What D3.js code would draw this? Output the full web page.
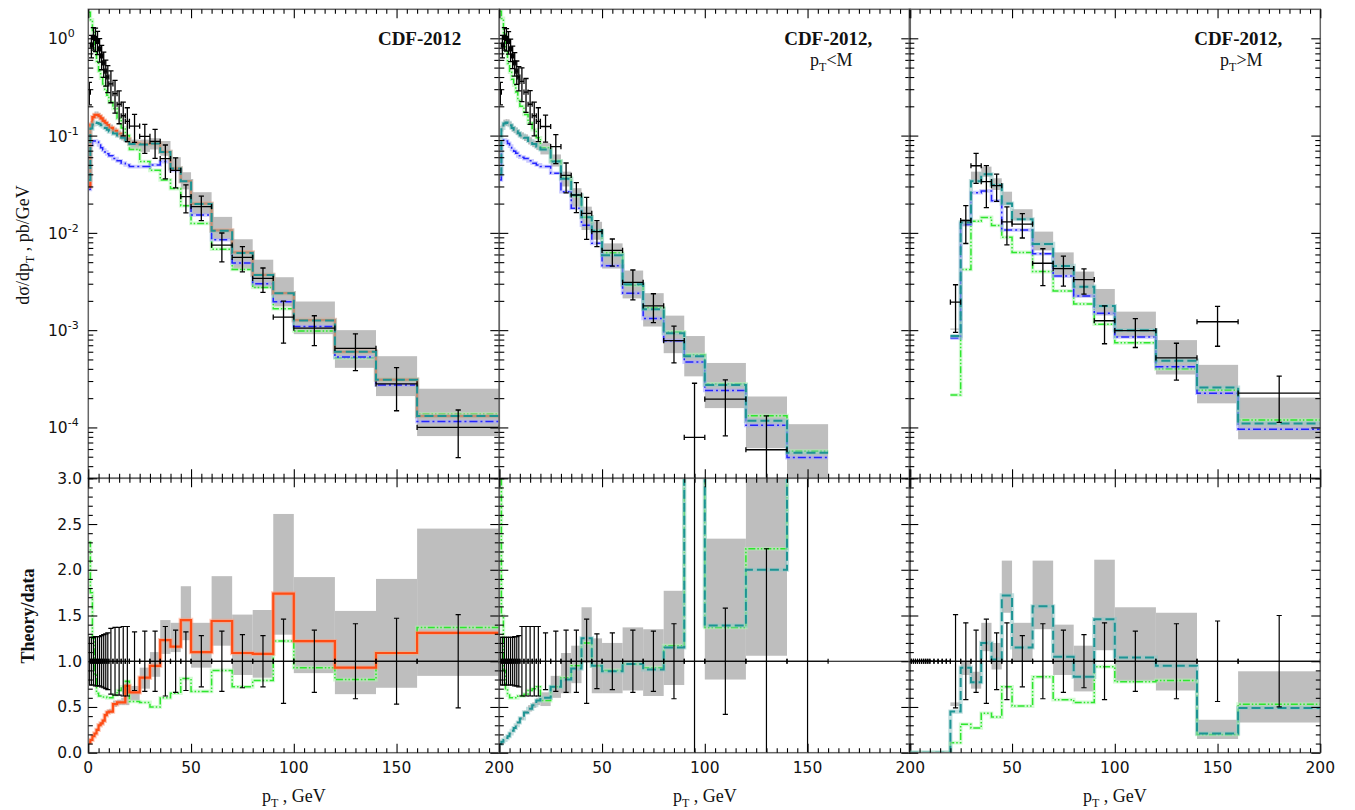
<!DOCTYPE html>
<html lang="en">
<head>
<meta charset="UTF-8">
<title>CDF-2012 pT spectra</title>
<script src="https://d3js.org/d3.v7.min.js"></script>
<style>
  body { margin: 0; background: #fff; }
  .tick-label { font-family: "DejaVu Sans", sans-serif; font-size: 15.5px; fill: #111; }
  .serif { font-family: "Liberation Serif", "Times New Roman", serif; fill: #111; }
</style>
</head>
<body>
<svg id="chart" width="1355" height="810"></svg>
<script>
// ---- bins (GeV) ----
const binEdges = [0,1,2,3,4,5,6,7,8,9,10,12,14,16,18,20,25,30,35,40,45,50,60,70,80,90,100,120,140,160,200];
const xTickValues = [0, 50, 100, 150, 200];
const ratioTickValues = [0, 0.5, 1, 1.5, 2, 2.5, 3];
const ratioTickLabels = ['0.0', '0.5', '1.0', '1.5', '2.0', '2.5', '3.0'];
const logTickExponents = [0, -1, -2, -3, -4];

// ---- panel 1: all pT ----
const dataAll  = [0.28,0.85,1.02,1.0,0.93,0.78,0.66,0.56,0.46,0.40, 0.34,0.27,0.21,0.16,0.14, 0.125,0.098,0.087,0.058,0.044,0.0236, 0.0186,0.0075,0.0056,0.0034,0.00136, 0.00105,0.00065,0.00028,0.0001];
const errAll   = [0.26,0.26,0.26,0.27,0.27,0.27,0.28,0.29,0.30,0.31, 0.36,0.37,0.37,0.38,0.38, 0.32,0.33,0.33,0.38,0.34,0.32, 0.28,0.33,0.29,0.28,0.46, 0.34,0.41,0.47,0.51];
const bandLoAll = [0.027,0.12,0.143,0.15,0.15,0.146,0.139,0.131,0.125,0.118, 0.111,0.104,0.096,0.089,0.084, 0.071,0.068,0.072,0.062,0.045,0.028, 0.0155,0.0086,0.0042,0.0027,0.00175, 0.00091,0.00041,0.00021,0.0000815];
const bandHiAll = [0.034,0.141,0.168,0.177,0.177,0.171,0.162,0.154,0.146,0.138, 0.130,0.121,0.113,0.105,0.100, 0.091,0.091,0.094,0.088,0.060,0.042, 0.0262,0.0146,0.0086,0.0053,0.0035, 0.00197,0.00100,0.00054,0.00025];
const orangeAll = [0.03,0.13,0.155,0.163,0.163,0.158,0.15,0.142,0.135,0.128, 0.12,0.112,0.104,0.097,0.092, 0.083,0.082,0.083,0.068,0.046,0.034, 0.020,0.0106,0.0063,0.0037,0.0024, 0.00127,0.0006,0.00031,0.000131];
const tealAll   = [0.035,0.118,0.13,0.136,0.135,0.132,0.128,0.124,0.12,0.115, 0.11,0.105,0.1,0.095,0.09, 0.082,0.081,0.083,0.068,0.046,0.034, 0.0198,0.0105,0.0062,0.0037,0.0024, 0.00126,0.0006,0.00031,0.000131];
const blueAll   = [0.028,0.08,0.088,0.088,0.086,0.08,0.075,0.071,0.068,0.065, 0.062,0.058,0.055,0.052,0.05, 0.048,0.048,0.050,0.054,0.044,0.034, 0.0153,0.0085,0.0049,0.0030,0.00196, 0.00109,0.00053,0.000273,0.000115];
const greenAll  = [1.85,1.55,1.15,0.75,0.58,0.46,0.39,0.34,0.30,0.26, 0.22,0.19,0.15,0.12,0.10, 0.072,0.054,0.044,0.035,0.0285,0.019, 0.0125,0.0068,0.0042,0.00275,0.00166, 0.00098,0.00052,0.00031,0.000137];
const ratioOrangeAll = [0.11,0.14,0.18,0.21,0.25,0.30,0.32,0.35,0.41,0.44, 0.45,0.53,0.55,0.55,0.73, 0.66,0.82,0.95,1.23,1.16,1.45, 1.10,1.44,1.09,1.08,1.74, 1.22,0.93,1.09,1.31];
const ratioGreenAll  = [2.3,1.75,1.25,0.85,0.65,0.62,0.62,0.61,0.61,0.60, 0.60,0.63,0.68,0.72,0.78, 0.56,0.55,0.50,0.60,0.65,0.81, 0.67,0.90,0.72,0.79,1.22, 0.93,0.80,1.09,1.37];
const ratioBandLoAll = [0.10,0.13,0.17,0.20,0.24,0.28,0.30,0.33,0.39,0.42, 0.43,0.50,0.52,0.52,0.52, 0.57,0.70,0.83,1.08,1.10,1.23, 0.93,1.17,0.85,0.82,1.29, 0.87,0.64,0.71,0.84];
const ratioBandHiAll = [0.12,0.15,0.19,0.22,0.27,0.32,0.34,0.37,0.43,0.47, 0.48,0.57,0.58,0.60,0.79, 0.73,0.93,1.10,1.45,1.42,1.82, 1.42,1.93,1.51,1.56,2.61, 1.92,1.55,1.90,2.45];

// ---- panel 2: pT < M ----
const dataLow  = [0.28,0.85,1.02,1.0,0.93,0.78,0.66,0.56,0.46,0.40, 0.36,0.28,0.21,0.16,0.14, 0.124,0.077,0.039,0.0245,0.0159,0.0103, 0.0066,0.0031,0.00178,0.00078,0.000079, 0.000195,0.000059,0.000008,null];
const errLow   = [0.26,0.26,0.26,0.26,0.26,0.26,0.26,0.27,0.27,0.28, 0.38,0.38,0.38,0.38,0.38, 0.31,0.33,0.34,0.34,0.46,0.30, 0.31,0.34,0.33,0.41,2.6, 0.58,1.23,2.5,null];
const bandLoLow = [0.036,0.11,0.124,0.125,0.125,0.118,0.11,0.106,0.102,0.098, 0.093,0.088,0.081,0.076,0.071, 0.064,0.048,0.030,0.0186,0.0107,0.0085, 0.0043,0.00212,0.00109,0.00058,0.000335, 0.000158,0.0000612,0.000025,null];
const bandHiLow = [0.045,0.13,0.146,0.148,0.147,0.139,0.131,0.125,0.121,0.115, 0.108,0.103,0.096,0.089,0.084, 0.084,0.064,0.0426,0.0288,0.0186,0.013, 0.0078,0.0041,0.0024,0.00141,0.00087, 0.00046,0.000208,0.000108,null];
const tealLow  = [0.04,0.12,0.133,0.136,0.135,0.128,0.12,0.115,0.111,0.106, 0.1,0.095,0.088,0.082,0.077, 0.072,0.054,0.036,0.0245,0.0145,0.0105, 0.0059,0.00296,0.00164,0.00093,0.00054, 0.000273,0.000117,0.000055,null];
const blueLow  = [0.035,0.085,0.09,0.088,0.083,0.078,0.072,0.069,0.066,0.062, 0.06,0.058,0.055,0.052,0.05, 0.048,0.041,0.0265,0.0179,0.012,0.0078, 0.0046,0.0024,0.00132,0.00078,0.00047, 0.00024,0.000105,0.000049,null];
const greenLow = [1.9,1.6,1.1,0.73,0.55,0.45,0.38,0.33,0.28,0.23, 0.2,0.165,0.135,0.115,0.095, 0.075,0.055,0.037,0.024,0.0145,0.0105, 0.0062,0.0029,0.0017,0.00096,0.00056, 0.00028,0.000132,0.000057,null];
const ratioTealLow  = [0.095,0.12,0.14,0.16,0.18,0.21,0.24,0.27,0.30,0.33, 0.375,0.44,0.48,0.52,0.57, 0.60,0.72,0.80,0.92,1.25,0.95, 0.89,0.97,0.91,1.15,6, 1.39,2.0,6,null];
const ratioGreenLow = [3.5,1.5,0.9,0.7,0.63,0.6,0.6,0.6,0.6,0.62, 0.62,0.64,0.68,0.7,0.72, 0.57,0.72,0.82,0.95,1.2,0.95, 0.9,0.97,0.93,1.17,6, 1.37,2.23,6,null];
const ratioBandLoLow = [0.09,0.115,0.135,0.155,0.175,0.2,0.23,0.26,0.29,0.32, 0.36,0.42,0.45,0.49,0.52, 0.51,0.60,0.65,0.76,0.98,0.65, 0.65,0.68,0.62,0.74,4, 0.80,1.06,4,null];
const ratioBandHiLow = [0.10,0.125,0.145,0.165,0.19,0.22,0.25,0.28,0.31,0.34, 0.39,0.46,0.52,0.55,0.60, 0.66,0.84,1.09,1.17,1.59,1.25, 1.20,1.37,1.35,1.77,8, 2.34,8,8,null];

// ---- panel 3: pT > M ----
const dataHigh = [null,null,null,null,null,null,null,null,null,null, null,null,null,null,null, 0.00194,0.0134,0.049,0.0336,0.0306,0.013, 0.0123,0.00487,0.0043,0.0033,0.00125, 0.00099,0.00052,0.00122,0.000225];
const errHigh  = [0,0,0,0,0,0,0,0,0,0, 0,0,0,0,0, 0.51,0.42,0.34,0.46,0.31,0.42, 0.28,0.41,0.34,0.29,0.42, 0.33,0.41,0.44,0.50];
const bandLoHigh = [null,null,null,null,null,null,null,null,null,null, null,null,null,null,null, 0.00101,0.0117,0.0336,0.0378,0.0276,0.0194, 0.0136,0.0066,0.0037,0.00218,0.00142, 0.00085,0.00035,0.000177,0.0000755];
const bandHiHigh = [null,null,null,null,null,null,null,null,null,null, null,null,null,null,null, 0.00104,0.0138,0.0426,0.048,0.0364,0.0265, 0.0175,0.0103,0.0063,0.004,0.00265, 0.00155,0.00079,0.00044,0.000203];
const tealHigh  = [null,null,null,null,null,null,null,null,null,null, null,null,null,null,null, 0.00087,0.0128,0.034,0.040,0.031,0.020, 0.0138,0.0077,0.00457,0.0028,0.00177, 0.001,0.000486,0.000257,0.00011];
const blueHigh  = [null,null,null,null,null,null,null,null,null,null, null,null,null,null,null, 0.00083,0.0122,0.0259,0.027,0.0214,0.0107, 0.0107,0.0061,0.0036,0.00225,0.00149, 0.00085,0.00042,0.000225,0.000096];
const greenHigh = [null,null,null,null,null,null,null,null,null,null, null,null,null,null,null, 0.000216,0.0042,0.0132,0.0144,0.0119,0.0090, 0.0063,0.0040,0.00253,0.00186,0.00115, 0.00074,0.0004,0.000243,0.000119];
const ratioTealHigh  = [0,0,0,0,0,0,0,0,0,0, 0,0,0,0,0, 0.45,0.93,0.77,1.20,1.02,1.72, 1.15,1.60,1.05,0.83,1.46, 1.04,0.95,0.21,0.49];
const ratioGreenHigh = [0,0,0,0,0,0,0,0,0,0, 0,0,0,0,0, 0.11,0.31,0.27,0.43,0.39,0.72, 0.51,0.83,0.58,0.55,0.94, 0.777,0.79,0.20,0.53];
const ratioBandLoHigh = [null,null,null,null,null,null,null,null,null,null, null,null,null,null,null, 0.51,0.85,0.70,1.11,0.91,1.53, 1.00,1.35,0.85,0.67,1.12, 0.78,0.68,0.15,0.33];
const ratioBandHiHigh = [null,null,null,null,null,null,null,null,null,null, null,null,null,null,null, 0.55,1.00,0.885,1.42,1.20,2.10, 1.42,2.10,1.40,1.17,2.11, 1.59,1.53,0.36,0.89];

// ---- styles ----
const styles = {
  orange: { color: '#ff4c14', halo: '#ff9c7c', width: 2.2, dash: null },
  teal:   { color: '#1d9494', halo: '#8fc4c4', width: 2,   dash: '9,4' },
  blue:   { color: '#2424ff', halo: '#a3a3ff', width: 1.5, dash: '8,3,2,3' },
  green:  { color: '#2ee62e', halo: '#b0f5b0', width: 1.5, dash: '7,2,1.5,2,1.5,2' }
};

const panels = [
  { title: 'CDF-2012', sub: null, data: dataAll, err: errAll, bandLo: bandLoAll, bandHi: bandHiAll,
    curves: [[greenAll, 'green'], [blueAll, 'blue'], [orangeAll, 'orange'], [tealAll, 'teal']],
    rBandLo: ratioBandLoAll, rBandHi: ratioBandHiAll,
    rCurves: [[ratioGreenAll, 'green'], [ratioOrangeAll, 'orange']] },
  { title: 'CDF-2012,', sub: '<M', data: dataLow, err: errLow, bandLo: bandLoLow, bandHi: bandHiLow,
    curves: [[greenLow, 'green'], [blueLow, 'blue'], [tealLow, 'teal']],
    rBandLo: ratioBandLoLow, rBandHi: ratioBandHiLow,
    rCurves: [[ratioGreenLow, 'green'], [ratioTealLow, 'teal']] },
  { title: 'CDF-2012,', sub: '>M', data: dataHigh, err: errHigh, bandLo: bandLoHigh, bandHi: bandHiHigh,
    curves: [[greenHigh, 'green'], [blueHigh, 'blue'], [tealHigh, 'teal']],
    rBandLo: ratioBandLoHigh, rBandHi: ratioBandHiHigh,
    rCurves: [[ratioGreenHigh, 'green'], [ratioTealHigh, 'teal']] }
];

// ---- layout ----
const svg = d3.select('#chart');
const defs = svg.append('defs');
const lefts = [88.3, 499.3, 909.3];
const PW = 411;
const yTop = 9.3, yMid = 478.3, yBot = 752.7;
const yLog = d3.scaleLog().domain([3.0e-5, 1.987]).range([yMid, yTop]);
const yRat = d3.scaleLinear().domain([0, 3]).range([yBot, yMid]);

function stepPoints(vals) {
  const pts = [];
  vals.forEach((v, i) => { pts.push([binEdges[i], v], [binEdges[i + 1], v]); });
  return pts;
}

function drawStep(g, x, y, vals, styleName, isLog) {
  const st = styles[styleName];
  const line = d3.line()
    .defined(d => d[1] != null && (!isLog || d[1] > 0))
    .x(d => x(d[0])).y(d => y(d[1]));
  const pts = stepPoints(vals);
  g.append('path').attr('d', line(pts)).attr('fill', 'none')
    .attr('stroke', st.halo).attr('stroke-width', st.width + 2.2).attr('stroke-opacity', 0.55);
  g.append('path').attr('d', line(pts)).attr('fill', 'none')
    .attr('stroke', st.color).attr('stroke-width', st.width)
    .attr('stroke-dasharray', st.dash);
}

function drawBand(g, x, y, lo, hi) {
  const idx = d3.range(lo.length).filter(i => lo[i] != null && hi[i] != null);
  g.selectAll(null).data(idx).join('rect')
    .attr('x', i => x(binEdges[i]))
    .attr('width', i => x(binEdges[i + 1]) - x(binEdges[i]))
    .attr('y', i => y(hi[i]))
    .attr('height', i => y(lo[i]) - y(hi[i]))
    .attr('fill', '#bebebe');
}

// cross: horizontal bin bar with end ticks + vertical error bar with caps
function cross(g, x, i, yv, yHi, yLo, sw) {
  const cap = 2.6;
  const cx = x((binEdges[i] + binEdges[i + 1]) / 2);
  const x0 = x(binEdges[i]), x1 = x(binEdges[i + 1]);
  const c = g.append('g').attr('stroke', '#000').attr('stroke-width', sw);
  c.append('line').attr('x1', cx).attr('x2', cx).attr('y1', yHi).attr('y2', yLo);
  c.append('line').attr('x1', cx - cap).attr('x2', cx + cap).attr('y1', yHi).attr('y2', yHi);
  c.append('line').attr('x1', cx - cap).attr('x2', cx + cap).attr('y1', yLo).attr('y2', yLo);
  c.append('line').attr('x1', x0).attr('x2', x1).attr('y1', yv).attr('y2', yv);
  c.append('line').attr('x1', x0).attr('x2', x0).attr('y1', yv - cap).attr('y2', yv + cap);
  c.append('line').attr('x1', x1).attr('x2', x1).attr('y1', yv - cap).attr('y2', yv + cap);
}

function drawCrosses(g, x, vals, err) {
  d3.range(vals.length).filter(i => vals[i] != null).forEach(i => {
    const v = vals[i];
    const low = v * (1 - err[i]);
    cross(g, x, i, yLog(v), yLog(v * (1 + err[i])), low > 0 ? yLog(low) : yMid + 20, 1.3);
  });
}

function drawRatioBars(g, x, err) {
  d3.range(err.length).filter(i => err[i] != null).forEach(i => {
    cross(g, x, i, yRat(1), yRat(1 + err[i]), yRat(1 - err[i]), 1.2);
  });
}

function tickSet(g, axis, vals, size) {
  g.call(axis.tickValues(vals).tickSize(-size).tickFormat(''))
    .call(s => s.select('.domain').remove());
  g.selectAll('line').attr('stroke', '#000').attr('stroke-width', 1.1);
}

const xMinor = d3.range(5, 200, 5).filter(v => v % 50 !== 0);
const logMajor = logTickExponents.map(e => Math.pow(10, e));
const logMinor = [];
[-5, -4, -3, -2, -1, 0].forEach(e => d3.range(2, 10).forEach(k => {
  const v = k * Math.pow(10, e);
  if (v >= 3.0e-5 && v <= 1.987) logMinor.push(v);
}));
const ratMinor = d3.range(1, 30).filter(k => k % 5 !== 0).map(k => k / 10);

panels.forEach((p, k) => {
  const L = lefts[k];
  const x = d3.scaleLinear().domain([0, 200]).range([L, L + PW]);

  defs.append('clipPath').attr('id', 'ct' + k).append('rect')
    .attr('x', L).attr('y', yTop).attr('width', PW).attr('height', yMid - yTop);
  defs.append('clipPath').attr('id', 'cb' + k).append('rect')
    .attr('x', L).attr('y', yMid).attr('width', PW).attr('height', yBot - yMid);

  // upper panel
  const gt = svg.append('g').attr('clip-path', `url(#ct${k})`);
  drawBand(gt, x, yLog, p.bandLo, p.bandHi);
  p.curves.forEach(([vals, s]) => drawStep(gt, x, yLog, vals, s, true));
  drawCrosses(gt, x, p.data, p.err);

  // ratio panel
  const gb = svg.append('g').attr('clip-path', `url(#cb${k})`);
  drawBand(gb, x, yRat, p.rBandLo, p.rBandHi);
  p.rCurves.forEach(([vals, s]) => drawStep(gb, x, yRat, vals, s, false));
  gb.append('line').attr('x1', L).attr('x2', L + PW)
    .attr('y1', yRat(1)).attr('y2', yRat(1)).attr('stroke', '#000').attr('stroke-width', 1.2);
  drawRatioBars(gb, x, p.err);

  // frames
  [[yTop, yMid], [yMid, yBot]].forEach(([a, b]) => {
    svg.append('rect').attr('x', L).attr('y', a).attr('width', PW).attr('height', b - a)
      .attr('fill', 'none').attr('stroke', '#666').attr('stroke-width', 1.5);
  });

  // x ticks on every horizontal edge, pointing inward
  [[d3.axisTop, yTop], [d3.axisBottom, yMid], [d3.axisTop, yMid], [d3.axisBottom, yBot]].forEach(([fn, yy]) => {
    tickSet(svg.append('g').attr('transform', `translate(0,${yy})`), fn(x), xTickValues, 9);
    tickSet(svg.append('g').attr('transform', `translate(0,${yy})`), fn(x), xMinor, 4.5);
  });
  // y ticks both sides
  [[d3.axisLeft, L], [d3.axisRight, L + PW]].forEach(([fn, xx]) => {
    tickSet(svg.append('g').attr('transform', `translate(${xx},0)`), fn(yLog), logMajor, 9);
    tickSet(svg.append('g').attr('transform', `translate(${xx},0)`), fn(yLog), logMinor, 5);
    tickSet(svg.append('g').attr('transform', `translate(${xx},0)`), fn(yRat), ratioTickValues, 9);
    tickSet(svg.append('g').attr('transform', `translate(${xx},0)`), fn(yRat), ratMinor, 4.5);
  });

  // x tick labels (the shared "0" of later panels sits under the previous "200")
  const labels = k === 0 ? xTickValues : xTickValues.slice(1);
  svg.append('g').selectAll('text').data(labels).join('text')
    .attr('class', 'tick-label').attr('text-anchor', 'middle')
    .attr('x', d => x(d)).attr('y', 773).text(d => d);

  // x title
  const xt = svg.append('text').attr('class', 'serif').attr('font-size', 18)
    .attr('text-anchor', 'middle').attr('x', L + PW / 2).attr('y', 802);
  xt.append('tspan').text('p');
  xt.append('tspan').attr('font-size', 12).attr('dy', 5).text('T');
  xt.append('tspan').attr('dy', -5).text(' , GeV');

  // panel title
  const right = L + 373;
  svg.append('text').attr('class', 'serif').attr('font-size', 19).attr('font-weight', 'bold')
    .attr('text-anchor', 'end').attr('x', right).attr('y', 45).text(p.title);
  if (p.sub) {
    const st = svg.append('text').attr('class', 'serif').attr('font-size', 18)
      .attr('text-anchor', 'middle').attr('x', L + 332).attr('y', 65.5);
    st.append('tspan').text('p');
    st.append('tspan').attr('font-size', 12).attr('dy', 5).text('T');
    st.append('tspan').attr('dy', -5).text(p.sub);
  }
});

// y tick labels (left panel only)
const logLab = svg.append('g');
logTickExponents.forEach(e => {
  const t = logLab.append('text').attr('class', 'tick-label')
    .attr('x', 48).attr('y', yLog(Math.pow(10, e)) + 6);
  t.append('tspan').text('10');
  t.append('tspan').attr('font-size', 11).attr('dy', -7).text(e);
});
svg.append('g').selectAll('text').data(ratioTickValues).join('text')
  .attr('class', 'tick-label').attr('text-anchor', 'end')
  .attr('x', 82).attr('y', d => yRat(d) + 5.5)
  .text((d, i) => ratioTickLabels[i]);

// y titles
const yt = svg.append('text').attr('class', 'serif').attr('font-size', 18)
  .attr('text-anchor', 'middle').attr('transform', 'translate(29,245) rotate(-90)');
yt.append('tspan').text('dσ/dp');
yt.append('tspan').attr('font-size', 12).attr('dy', 5).text('T');
yt.append('tspan').attr('dy', -5).text(' , pb/GeV');

svg.append('text').attr('class', 'serif').attr('font-size', 18).attr('font-weight', 'bold')
  .attr('text-anchor', 'middle').attr('transform', 'translate(34,616) rotate(-90)')
  .text('Theory/data');
</script>
</body>
</html>
